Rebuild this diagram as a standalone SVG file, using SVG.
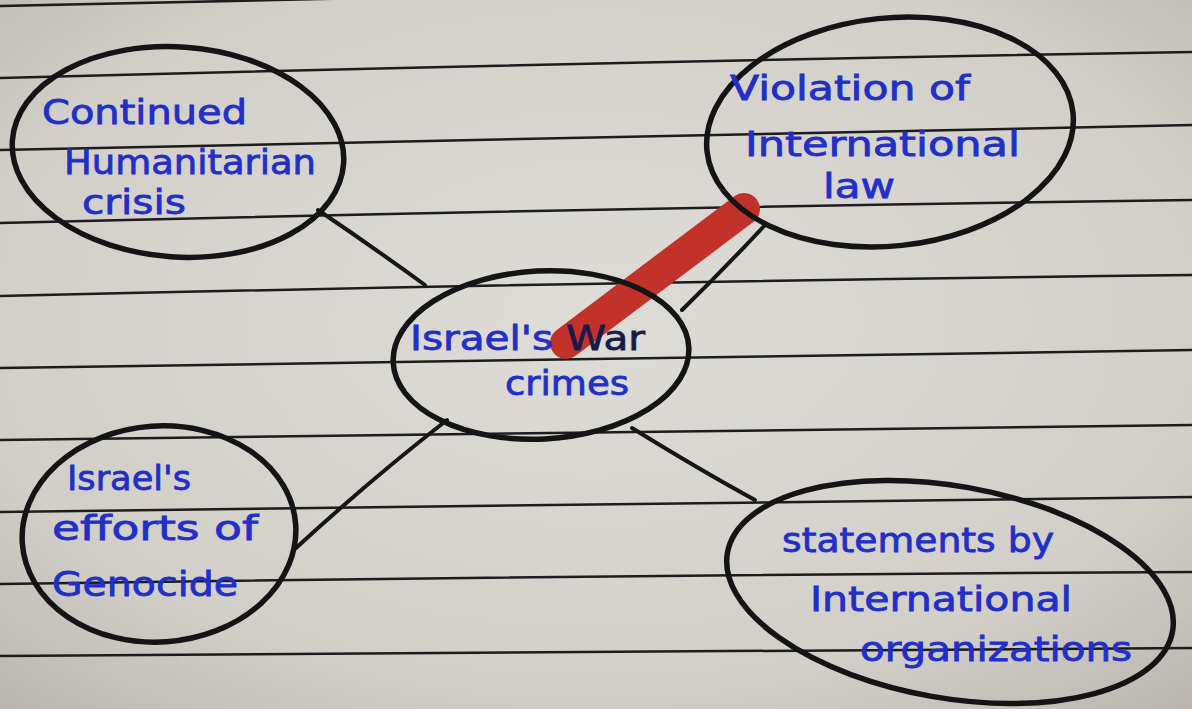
<svg xmlns="http://www.w3.org/2000/svg" width="1192" height="709" viewBox="0 0 1192 709">
<defs>
<radialGradient id="paper" cx="50%" cy="45%" r="75%">
<stop offset="0" stop-color="#dedcd7"/>
<stop offset="0.7" stop-color="#d2cfc9"/>
<stop offset="1" stop-color="#b9b5ae"/>
</radialGradient>
<style>
.rule{stroke:#1c1c1c;stroke-width:2.5;fill:none}
.oval{fill:none;stroke:#141414;stroke-width:5.5;stroke-linecap:round}
.link{fill:none;stroke:#161616;stroke-width:4;stroke-linecap:round}
.lbl{font-family:"DejaVu Sans","Liberation Sans",sans-serif;font-size:34px;fill:#1f2fc8;stroke:#1f2fc8;stroke-width:0.8}
</style>
</defs>
<rect width="1192" height="709" fill="url(#paper)"/>
<g id="rules">
<path class="rule" d="M0,6 L1192,-20"/>
<path class="rule" d="M0,78 Q600,62 1192,52"/>
<path class="rule" d="M0,150 Q600,136 1192,125"/>
<path class="rule" d="M0,223 Q600,208 1192,200"/>
<path class="rule" d="M0,296 Q600,282 1192,275"/>
<path class="rule" d="M0,368 Q600,357 1192,350"/>
<path class="rule" d="M0,440 Q600,430 1192,425"/>
<path class="rule" d="M0,512 Q600,502 1192,497"/>
<path class="rule" d="M0,584 Q600,575 1192,572"/>
<path class="rule" d="M0,656 Q600,650 1192,648"/>
</g>
<g id="connectors">
<path class="link" d="M318,210 Q370,245 425,285"/>
<path class="link" d="M682,310 Q725,268 765,225"/>
<path class="link" d="M447,420 Q370,480 296,548"/>
<path class="link" d="M632,428 Q700,470 755,500" stroke-width="6"/>
</g>
<path id="highlight" d="M566,343 Q650,280 744,209" fill="none" stroke="#c3322a" stroke-width="32" stroke-linecap="round"/>
<g id="node-humanitarian">
<ellipse class="oval" cx="178" cy="152" rx="166" ry="105" transform="rotate(4 178 152)"/>
<text class="lbl" x="42" y="124" textLength="205" lengthAdjust="spacingAndGlyphs">Continued</text>
<text class="lbl" x="64" y="174" font-size="30" textLength="252" lengthAdjust="spacingAndGlyphs">Humanitarian</text>
<text class="lbl" x="82" y="214" font-size="26" textLength="104" lengthAdjust="spacingAndGlyphs">crisis</text>
</g>
<g id="node-violation">
<ellipse class="oval" cx="890" cy="132" rx="184" ry="114" transform="rotate(-6 890 132)"/>
<text class="lbl" x="730" y="100" textLength="240" lengthAdjust="spacingAndGlyphs">Violation of</text>
<text class="lbl" x="745" y="156" textLength="275" lengthAdjust="spacingAndGlyphs">International</text>
<text class="lbl" x="823" y="198" textLength="72" lengthAdjust="spacingAndGlyphs">law</text>
</g>
<g id="node-center">
<ellipse class="oval" cx="541" cy="355" rx="148" ry="84" transform="rotate(-3 541 355)"/>
<text class="lbl" x="410" y="350" textLength="235" lengthAdjust="spacingAndGlyphs">Israel's <tspan fill="#1a1a4a" stroke="#1a1a4a">War</tspan></text>
<text class="lbl" x="505" y="395" textLength="124" lengthAdjust="spacingAndGlyphs">crimes</text>
</g>
<g id="node-genocide">
<ellipse class="oval" cx="159" cy="534" rx="137" ry="108" transform="rotate(-4 159 534)"/>
<text class="lbl" x="67" y="490" textLength="124" lengthAdjust="spacingAndGlyphs">Israel's</text>
<text class="lbl" x="52" y="540" textLength="206" lengthAdjust="spacingAndGlyphs">efforts of</text>
<text class="lbl" x="52" y="596" textLength="186" lengthAdjust="spacingAndGlyphs">Genocide</text>
</g>
<g id="node-statements">
<ellipse class="oval" cx="950" cy="592" rx="226" ry="106" transform="rotate(10 950 592)"/>
<text class="lbl" x="782" y="552" textLength="272" lengthAdjust="spacingAndGlyphs">statements by</text>
<text class="lbl" x="810" y="611" textLength="262" lengthAdjust="spacingAndGlyphs">International</text>
<text class="lbl" x="860" y="661" textLength="272" lengthAdjust="spacingAndGlyphs">organizations</text>
</g>
</svg>
